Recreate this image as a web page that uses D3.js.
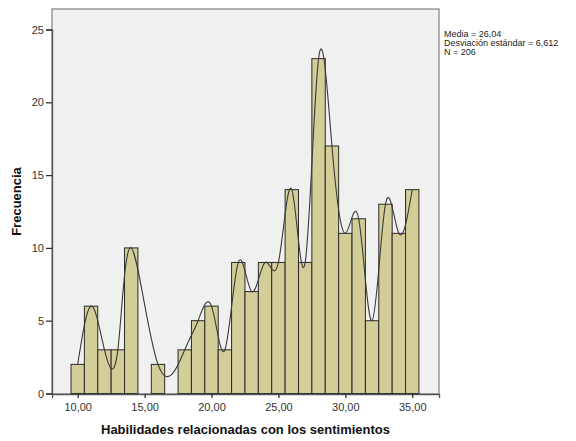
<!DOCTYPE html>
<html><head><meta charset="utf-8">
<script src="https://cdn.jsdelivr.net/npm/d3@7"></script>
<style>body{margin:0;background:#fff}svg{display:block}text{font-family:Arial,"Liberation Sans",sans-serif}</style>
</head><body>
<svg id="c" width="576" height="441"></svg>
<script>
const values = [10,11,12,13,14,15,16,17,18,19,20,21,22,23,24,25,26,27,28,29,30,31,32,33,34,35];
const counts = [2,6,3,3,10,0,2,0,3,5,6,3,9,7,9,9,14,9,23,17,11,12,5,13,11,14];
const xTicks = [10,15,20,25,30,35];
const yTicks = [0,5,10,15,20,25];
const statsLines = ["Media = 26,04","Desviación estándar = 6,612","N = 206"];
const xTitle = "Habilidades relacionadas con los sentimientos";
const yTitle = "Frecuencia";

const L=52,T=9,R=439,B=394;
const svg=d3.select("#c");
const x=d3.scaleLinear().domain([8.08,37.0]).range([L,R]);
const y=d3.scaleLinear().domain([0,25]).range([B-0.5,29.5]);
svg.append("rect").attr("x",L).attr("y",T).attr("width",R-L).attr("height",B-T).attr("fill","#f0f0f0").attr("stroke","#8a8a8a").attr("stroke-width",1.3);
const data=values.map((v,i)=>({v,c:counts[i]}));
svg.append("g").selectAll("rect").data(data.filter(d=>d.c>0)).join("rect")
  .attr("x",d=>x(d.v-0.5)).attr("width",d=>x(d.v+0.5)-x(d.v-0.5))
  .attr("y",d=>y(d.c)).attr("height",d=>y(0)-y(d.c))
  .attr("fill","#d3ce98").attr("stroke","#2a2a2a").attr("stroke-width",1);
const line=d3.line().x(d=>x(d.v)).y(d=>y(d.c)).curve(d3.curveNatural);
svg.append("path").attr("d",line(data.filter(d=>d.c>0))).attr("fill","none").attr("stroke","#3a3a3a").attr("stroke-width",1.1);
const xa=svg.append("g").attr("transform",`translate(0,${B})`).call(d3.axisBottom(x).tickValues(xTicks).tickSize(4).tickFormat(d=>d3.format(".2f")(d).replace(".",",")));
const ya=svg.append("g").attr("transform",`translate(${L},0)`).call(d3.axisLeft(y).tickValues(yTicks).tickSize(6).tickPadding(2));
[xa,ya].forEach(a=>{a.select(".domain").attr("stroke","#555").attr("stroke-width",1.3);a.selectAll(".tick line").attr("stroke","#333").attr("stroke-width",1.3);a.selectAll("text").attr("fill","#333").style("font-size","11px");});
xa.selectAll("text").attr("dy","0.95em");
svg.append("text").attr("x",(L+R)/2).attr("y",434).attr("text-anchor","middle").style("font-size","13px").style("font-weight","bold").attr("fill","#111").text(xTitle);
svg.append("text").attr("transform",`translate(21,${(T+B)/2}) rotate(-90)`).attr("text-anchor","middle").style("font-size","13px").style("font-weight","bold").attr("fill","#111").text(yTitle);
svg.append("g").selectAll("text").data(statsLines).join("text").attr("x",444).attr("y",(d,i)=>37+i*9).style("font-size","9px").attr("fill","#222").text(d=>d);
</script>
</body></html>
